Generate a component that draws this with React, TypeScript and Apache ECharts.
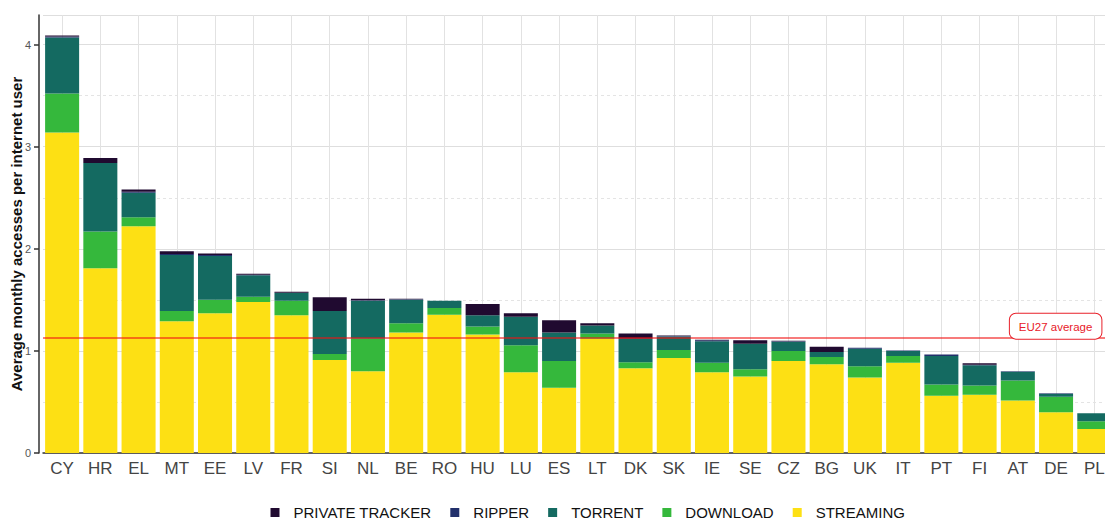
import React, { useEffect, useRef } from "react";
import * as echarts from "echarts";

const categories = ["CY","HR","EL","MT","EE","LV","FR","SI","NL","BE","RO","HU","LU","ES","LT","DK","SK","IE","SE","CZ","BG","UK","IT","PT","FI","AT","DE","PL"];

const streaming = [3.14,1.81,2.22,1.29,1.37,1.48,1.35,0.91,0.80,1.18,1.355,1.16,0.79,0.64,1.12,0.83,0.93,0.79,0.75,0.90,0.87,0.74,0.885,0.56,0.57,0.515,0.40,0.235];
const download = [0.38,0.36,0.09,0.10,0.13,0.05,0.14,0.06,0.32,0.09,0.065,0.08,0.265,0.26,0.05,0.06,0.08,0.095,0.07,0.10,0.07,0.11,0.065,0.11,0.09,0.195,0.15,0.075];
const torrent = [0.55,0.67,0.24,0.55,0.43,0.21,0.08,0.42,0.37,0.23,0.07,0.11,0.28,0.28,0.08,0.23,0.13,0.21,0.25,0.09,0.05,0.17,0.05,0.28,0.20,0.085,0.03,0.08];
const ripper = [0.01,0,0.01,0.01,0.01,0.005,0,0,0.005,0.005,0,0,0,0,0,0,0.005,0.01,0,0.005,0,0.01,0.005,0.015,0.005,0.005,0.005,0];
const privateTracker = [0.01,0.05,0.02,0.025,0.015,0.01,0.01,0.135,0.015,0.005,0,0.11,0.035,0.12,0.02,0.05,0.005,0.005,0.035,0.005,0.05,0,0,0,0.015,0,0,0];

const eu27Average = 1.125;
const yMax = 4.29;

const seriesNames = ["STREAMING", "DOWNLOAD", "TORRENT", "RIPPER", "PRIVATE TRACKER"];
const seriesValues = [streaming, download, torrent, ripper, privateTracker];
const seriesColors = ["#fde014", "#35b83c", "#146a61", "#22306b", "#200a30"];
const legendOrder = ["PRIVATE TRACKER", "RIPPER", "TORRENT", "DOWNLOAD", "STREAMING"];

export default function App() {
  const ref = useRef<HTMLDivElement>(null);
  useEffect(() => {
    if (!ref.current) return;
    const chart = echarts.init(ref.current, undefined, { renderer: "svg" });
    const series: any[] = seriesNames.map((name, i) => ({
      name,
      type: "bar",
      stack: "total",
      data: seriesValues[i],
      barCategoryGap: "11%",
      itemStyle: { color: seriesColors[i] },
      emphasis: { disabled: true },
    }));
    series[0].markLine = {
      silent: true,
      symbol: "none",
      lineStyle: { color: "rgba(240,20,20,0.75)", width: 1.5, type: "solid" },
      label: {
        show: true,
        position: "insideEndTop",
        formatter: "EU27 average",
        color: "#e8202a",
        fontSize: 11.5,
        backgroundColor: "#ffffff",
        borderColor: "#e8202a",
        borderWidth: 1,
        borderRadius: 6,
        padding: [7, 9, 6, 9],
        distance: 0,
        offset: [-12, 1],
      },
      data: [{ yAxis: eu27Average }],
    };
    chart.setOption({
      animation: false,
      textStyle: { fontFamily: "Liberation Sans, Arial, sans-serif" },
      grid: { left: 43, right: -8.4, top: 15, bottom: 67, outerBoundsMode: "none", containLabel: false },
      legend: {
        data: legendOrder,
        left: 265.5,
        top: 500,
        icon: "path://M0 0H9V9H0Z M18 9",
        itemWidth: 18,
        itemHeight: 9,
        itemGap: 19,
        textStyle: { fontSize: 15, color: "#111" },
      },
      xAxis: {
        type: "category",
        data: categories,
        axisLine: { lineStyle: { color: "#333", width: 1.5 } },
        axisTick: { alignWithLabel: true, length: 5, lineStyle: { color: "#333", width: 1.5 } },
        axisLabel: { fontSize: 17, color: "#444", margin: 7 },
        splitLine: { show: true, alignWithLabel: true, lineStyle: { color: "#e2e2e2", width: 1 } },
      },
      yAxis: {
        type: "value",
        min: 0,
        max: yMax,
        interval: 1,
        offset: 4,
        name: "Average monthly accesses per internet user",
        nameLocation: "middle",
        nameGap: 15,
        nameMoveOverlap: false,
        nameTextStyle: { fontSize: 15, fontWeight: "bold", color: "#111" },
        axisLine: { show: true, lineStyle: { color: "#333", width: 1.5 } },
        axisTick: { show: true, length: 5, lineStyle: { color: "#333", width: 1.5 } },
        axisLabel: { fontSize: 11, color: "#555", margin: 8, showMaxLabel: false },
        splitLine: { show: true, lineStyle: { color: "#dedede", width: 1 } },
        minorTick: { show: false, splitNumber: 2 },
        minorSplitLine: { show: true, lineStyle: { color: "#e4e4e4", width: 1, type: [3, 3] } },
      },
      series,
    });
    return () => chart.dispose();
  }, []);
  return (
    <div
      ref={ref}
      style={{ position: "fixed", left: 0, top: 0, width: 1105, height: 520, background: "#fff" }}
    />
  );
}
